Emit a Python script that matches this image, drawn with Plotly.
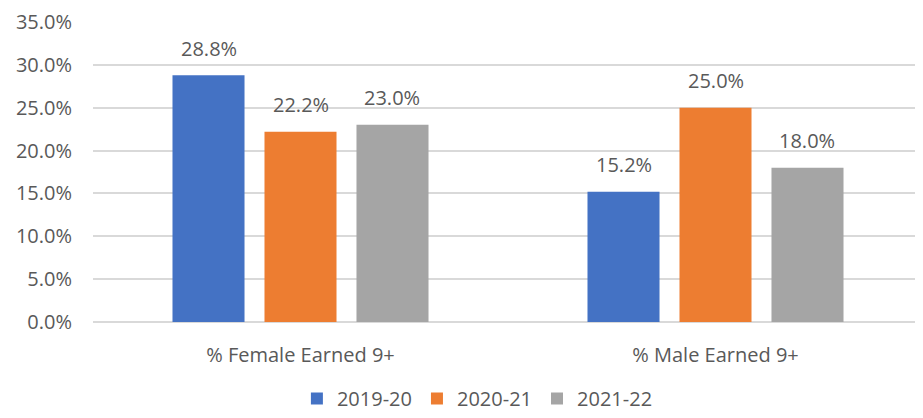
import plotly.graph_objects as go

categories = ["% Female Earned 9+", "% Male Earned 9+"]
series_names = ["2019-20", "2020-21", "2021-22"]
values = {
    "2019-20": [0.288, 0.152],
    "2020-21": [0.222, 0.250],
    "2021-22": [0.230, 0.180],
}
colors = ["#4472C4", "#ED7D31", "#A5A5A5"]
y_ticks = [0, 0.05, 0.10, 0.15, 0.20, 0.25, 0.30, 0.35]

FONT = "Open Sans"
TXT = "#595959"
FS = 20
BARGAP = 0.335
GROUPGAP = 0.217

fig = go.Figure()
for name, col in zip(series_names, colors):
    fig.add_trace(go.Bar(name=name, x=categories, y=values[name],
                         marker=dict(color=col, line=dict(width=0))))

# data labels
n = len(series_names)
slot = (1 - BARGAP) / n
for j, name in enumerate(series_names):
    for i, v in enumerate(values[name]):
        fig.add_annotation(x=i + (j - (n - 1) / 2) * slot, y=v, xref="x", yref="y",
                           text=f"{v*100:.1f}%", showarrow=False, yshift=27,
                           font=dict(family=FONT, size=FS, color=TXT))

fig.update_layout(
    width=915, height=410,
    margin=dict(l=85, r=0, t=14, b=96),
    paper_bgcolor="white", plot_bgcolor="white",
    barmode="group", bargap=BARGAP, bargroupgap=GROUPGAP,
    font=dict(family=FONT, size=FS, color=TXT),
    showlegend=True,
    legend=dict(orientation="h", xref="container", x=0.513, xanchor="center",
                yref="container", y=-0.027, yanchor="bottom",
                font=dict(family=FONT, size=FS, color=TXT), itemwidth=30),
    xaxis=dict(showgrid=False, showline=False, ticks="", ticklabelstandoff=19,
               tickfont=dict(family=FONT, size=FS, color=TXT)),
    yaxis=dict(range=[0, 0.35], tickvals=y_ticks, tickformat=".1%",
               showgrid=True, gridcolor="#D9D9D9", gridwidth=1.5,
               zeroline=True, zerolinecolor="#D9D9D9", zerolinewidth=1.5,
               showline=False, ticks="", ticklabelstandoff=20,
               tickfont=dict(family=FONT, size=FS, color=TXT)),
)

fig.write_html("out.html")
